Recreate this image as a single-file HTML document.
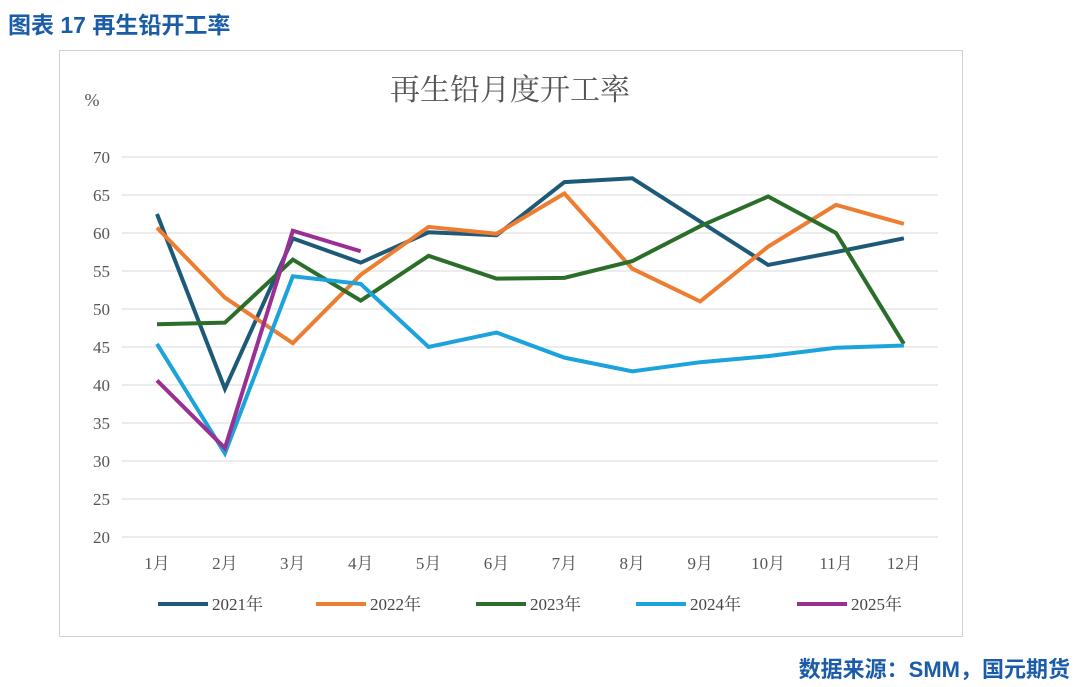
<!DOCTYPE html>
<html><head><meta charset="utf-8"><style>
body{margin:0;width:1080px;height:687px;background:#fff;overflow:hidden;position:relative;font-family:"Liberation Serif","Noto Serif CJK SC",serif}
.hd{position:absolute;left:8px;top:6px;font:bold 23px "Liberation Sans","Noto Sans CJK SC",sans-serif;color:#1a5ca8}
.src{position:absolute;right:10px;top:652px;font:bold 22px "Liberation Sans","Noto Sans CJK SC",sans-serif;color:#1a5ca8}
svg{position:absolute;left:0;top:0}
</style></head><body>
<div class="hd">图表 17 再生铅开工率</div>
<div class="src">数据来源：SMM，国元期货</div>
<svg width="1080" height="687" id="chart">
<rect x="59.5" y="50.5" width="903" height="586" fill="none" stroke="#d0d0d0"/>
<text x="510" y="100" text-anchor="middle" font-size="30" fill="#555" font-family="Liberation Serif,Noto Serif CJK SC,serif">再生铅月度开工率</text>
<text x="92" y="106" text-anchor="middle" font-size="18" fill="#555">%</text>
</svg>
<script>
const months=["1月","2月","3月","4月","5月","6月","7月","8月","9月","10月","11月","12月"];
const yTicks=[20,25,30,35,40,45,50,55,60,65,70];
const seriesNames=["2021年","2022年","2023年","2024年","2025年"];
const s2021=[62.5,39.5,59.3,56.1,60.1,59.7,66.7,67.2,61.5,55.8,57.5,59.3];
const s2022=[60.7,51.5,45.5,54.5,60.8,59.9,65.2,55.3,51.0,58.2,63.7,61.2];
const s2023=[48.0,48.2,56.5,51.1,57.0,54.0,54.1,56.3,60.9,64.8,60.0,45.4];
const s2024=[45.4,31.0,54.3,53.3,45.0,46.9,43.6,41.8,43.0,43.8,44.9,45.2];
const s2025=[40.6,31.7,60.3,57.6];
const colors=["#1d5a78","#ed7d31","#2a6e2a","#1ca3dc","#9a2f94"];
const all=[s2021,s2022,s2023,s2024,s2025];
const svg=document.getElementById('chart');const NS="http://www.w3.org/2000/svg";
const y=v=>537-(v-20)*7.6;const x=i=>157+i*67.9;
function mk(t,a){const e=document.createElementNS(NS,t);for(const k in a)e.setAttribute(k,a[k]);svg.appendChild(e);return e;}
yTicks.forEach(v=>{
 const l=mk('line',{x1:122,x2:938,y1:y(v),y2:y(v),stroke:'#d9d9d9','stroke-width':1});
 
 
 const t=mk('text',{x:110,y:y(v)+6,'text-anchor':'end','font-size':17,fill:'#555'});t.textContent=v;
 
 
});
months.forEach((m,i)=>{
 const t=mk('text',{x:x(i),y:569,'text-anchor':'middle','font-size':17,fill:'#555'});t.textContent=m;
 
 
});
all.forEach((s,k)=>{
 const p=mk('polyline',{points:s.map((v,i)=>x(i)+','+y(v)).join(' '),fill:'none',stroke:colors[k],'stroke-width':4,'stroke-linejoin':'miter'});
 
 
});
const lx=[158,316,476,636,797];
seriesNames.forEach((n,k)=>{
 const l=mk('line',{x1:lx[k],x2:lx[k]+50,y1:604,y2:604,stroke:colors[k],'stroke-width':4});
 
 
 const t=mk('text',{x:lx[k]+54,y:610,'font-size':17,fill:'#444'});t.textContent=n;
 
 
});
</script>
</body></html>
